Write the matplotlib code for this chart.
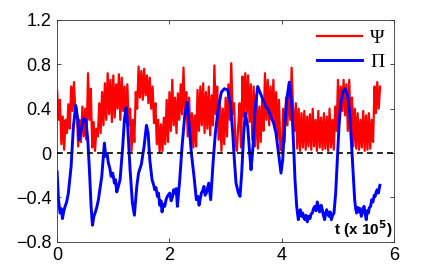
import numpy as np
import matplotlib
matplotlib.use('Agg')
import matplotlib.pyplot as plt

# Psi series (red), sampled every 0.025 (x 10^5)
psi_dt = 0.025
psi = [
    0.56, 0.30, 0.48, 0.08, 0.33, 0.03, 0.30, 0.18, 0.44, 0.22,
    0.60, 0.38, 0.64, 0.36, 0.40, 0.06, 0.30, 0.10, 0.42, 0.15,
    0.40, 0.12, 0.72, 0.30, 0.58, 0.05, 0.28, 0.02, 0.22, 0.15,
    0.45, 0.18, 0.55, 0.25, 0.63, 0.30, 0.72, 0.35, 0.66, 0.28,
    0.70, 0.32, 0.62, 0.40, 0.71, 0.30, 0.68, 0.38, 0.60, 0.28,
    0.62, 0.25, 0.40, 0.02, 0.30, 0.10, 0.55, 0.40, 0.78, 0.50,
    0.74, 0.48, 0.76, 0.52, 0.70, 0.45, 0.68, 0.40, 0.60, 0.27,
    0.45, 0.08, 0.30, 0.01, 0.26, 0.02, 0.32, 0.08, 0.48, 0.10,
    0.55, 0.20, 0.66, 0.25, 0.50, 0.18, 0.54, 0.30, 0.62, 0.35,
    0.77, 0.32, 0.55, 0.15, 0.50, 0.08, 0.36, 0.05, 0.34, 0.06,
    0.57, 0.20, 0.60, 0.25, 0.63, 0.18, 0.55, 0.22, 0.60, 0.16,
    0.52, 0.25, 0.79, 0.35, 0.60, 0.12, 0.45, 0.02, 0.40, 0.08,
    0.50, 0.15, 0.62, 0.30, 0.81, 0.35, 0.45, 0.10, 0.02, 0.25,
    0.45, 0.05, 0.69, 0.33, 0.72, 0.35, 0.70, 0.28, 0.62, 0.12,
    0.60, 0.06, 0.52, 0.04, 0.42, 0.10, 0.48, 0.20, 0.72, 0.30,
    0.66, 0.25, 0.60, 0.30, 0.66, 0.22, 0.55, 0.12, 0.48, 0.04,
    0.02, 0.40, 0.10, 0.50, 0.25, 0.62, 0.30, 0.77, 0.40, 0.20,
    0.45, 0.04, 0.40, 0.02, 0.36, 0.05, 0.38, 0.03, 0.33, 0.06,
    0.35, 0.03, 0.40, 0.06, 0.30, 0.02, 0.38, 0.05, 0.32, 0.03,
    0.36, 0.04, 0.33, 0.02, 0.40, 0.05, 0.30, 0.03, 0.42, 0.20,
    0.66, 0.30, 0.60, 0.38, 0.66, 0.34, 0.62, 0.20, 0.66, 0.25,
    0.50, 0.06, 0.40, 0.04, 0.36, 0.03, 0.30, 0.05, 0.38, 0.02,
    0.34, 0.03, 0.36, 0.04, 0.30, 0.10, 0.60, 0.36, 0.64, 0.40,
    0.60,
]
psi_t = np.arange(len(psi)) * psi_dt

# Pi series (blue)
pi_t = [0.0, 0.024, 0.053, 0.075, 0.095, 0.12, 0.142, 0.17, 0.20, 0.249, 0.29, 0.332, 0.368,
        0.391, 0.427, 0.469, 0.51, 0.546, 0.575, 0.605, 0.629, 0.655, 0.676, 0.705, 0.735,
        0.795, 0.842, 0.866, 0.89, 0.913, 0.94, 0.961, 0.99, 1.02, 1.04, 1.062, 1.09, 1.121, 1.168, 1.198,
        1.228, 1.257, 1.299, 1.34, 1.376, 1.418, 1.45, 1.50, 1.548, 1.59,
        1.62, 1.65, 1.69, 1.715, 1.738, 1.76, 1.785, 1.805, 1.827, 1.85, 1.868, 1.89, 1.916, 1.94, 1.963, 2.005,
        2.03, 2.052, 2.075, 2.094, 2.12, 2.141, 2.183, 2.224, 2.271, 2.313, 2.348, 2.39, 2.437,
        2.479, 2.505, 2.527, 2.545, 2.568, 2.59, 2.615, 2.635, 2.657, 2.68, 2.699, 2.734, 2.776, 2.817, 2.865,
        2.924, 2.977, 3.037, 3.084, 3.126, 3.155, 3.185, 3.227, 3.256, 3.286,
        3.322, 3.351, 3.393, 3.428, 3.452, 3.488, 3.523, 3.571, 3.618, 3.665,
        3.713, 3.76, 3.808, 3.855, 3.897, 3.927, 3.956, 3.986, 4.016, 4.045,
        4.087, 4.134, 4.176, 4.211, 4.235, 4.265, 4.294, 4.31, 4.33, 4.35, 4.371, 4.39, 4.412,
        4.43, 4.454, 4.48, 4.502, 4.52, 4.543, 4.565, 4.585, 4.61, 4.632, 4.655, 4.674, 4.70, 4.721, 4.74, 4.763,
        4.78, 4.799, 4.82, 4.84, 4.86, 4.882, 4.905, 4.929, 4.959, 4.988, 5.018, 5.048, 5.089, 5.131, 5.172, 5.208,
        5.237, 5.267, 5.297, 5.315, 5.332, 5.355, 5.374, 5.395, 5.415, 5.44, 5.463, 5.485, 5.504, 5.52, 5.54, 5.56, 5.581,
        5.60, 5.623, 5.645, 5.663, 5.68, 5.699, 5.72, 5.746]
pi_v = [-0.17, -0.42, -0.54, -0.50, -0.59, -0.52, -0.48, -0.44, -0.36, -0.12, 0.24, 0.43, 0.30,
        0.12, 0.21, 0.31, 0.30, 0.12, -0.15, -0.48, -0.65, -0.57, -0.54, -0.49, -0.42,
        -0.21, 0.09, -0.03, -0.01, -0.09, -0.14, -0.21, -0.18, -0.27, -0.24, -0.35, -0.30, -0.24, 0.06, 0.30,
        0.41, 0.24, -0.15, -0.45, -0.56, -0.30, -0.18, -0.10, 0.06, 0.25,
        0.18, -0.06, -0.24, -0.28, -0.33, -0.31, -0.39, -0.36, -0.47, -0.43, -0.53, -0.46, -0.48, -0.42, -0.39, -0.36,
        -0.43, -0.40, -0.33, -0.36, -0.32, -0.48, -0.24, 0.06, 0.33, 0.46, 0.27, 0.0, -0.21,
        -0.42, -0.39, -0.47, -0.42, -0.36, -0.34, -0.30, -0.38, -0.36, -0.31, -0.27, -0.42, -0.09, 0.18, 0.39,
        0.55, 0.58, 0.57, 0.45, 0.18, -0.06, -0.27, -0.36, -0.39, -0.18,
        0.18, 0.36, 0.24, 0.0, -0.15, 0.06, 0.39, 0.60, 0.54, 0.48,
        0.42, 0.39, 0.33, 0.27, 0.18, 0.06, -0.06, -0.18, -0.06, 0.21,
        0.48, 0.64, 0.45, 0.06, -0.24, -0.48, -0.60, -0.53, -0.51, -0.57, -0.54, -0.58, -0.60,
        -0.56, -0.62, -0.57, -0.59, -0.55, -0.54, -0.50, -0.48, -0.52, -0.44, -0.49, -0.53, -0.47, -0.51, -0.56, -0.60,
        -0.54, -0.51, -0.55, -0.57, -0.53, -0.60, -0.56, -0.54, -0.36, -0.06, 0.24, 0.45, 0.55, 0.58, 0.52, 0.36,
        0.12, -0.15, -0.42, -0.50, -0.54, -0.49, -0.53, -0.50, -0.57, -0.52, -0.48, -0.55, -0.60, -0.52, -0.54, -0.49, -0.48,
        -0.42, -0.44, -0.38, -0.39, -0.35, -0.33, -0.36, -0.29]

xticks = [0, 2, 4, 6]
yticks = [-0.8, -0.4, 0, 0.4, 0.8, 1.2]
yticklabels = ['\u22120.8', '\u22120.4', '0', '0.4', '0.8', '1.2']

plt.rcParams['font.family'] = ['Liberation Sans', 'DejaVu Sans']

fig = plt.figure(figsize=(4.36, 2.73), dpi=100)
ax = fig.add_axes([0.131, 0.114, 0.773, 0.813])

ax.plot(psi_t, psi, color='red', lw=1.6, label='\u03a8')
ax.plot(pi_t, pi_v, color='blue', lw=2.1, label='\u03a0')
ax.axhline(0, color='k', ls=(0, (3.5, 2.5)), lw=1.2, zorder=5)

ax.set_xlim(0, 6)
ax.set_ylim(-0.8, 1.2)
ax.set_xticks(xticks)
ax.set_yticks(yticks)
ax.set_yticklabels(yticklabels)
ax.tick_params(direction='in', length=3, width=0.5, labelsize=13,
               top=True, right=True, pad=4)
for s in ax.spines.values():
    s.set_linewidth(0.6)
    s.set_color('#333333')

leg = ax.legend(loc='upper right', frameon=False,
                handlelength=2.3, handletextpad=0.4, labelspacing=0.3,
                borderaxespad=0.1, prop={'family': 'Liberation Serif', 'size': 14})

ax.text(0.995, 0.01, r't (x 10$^{\mathbf{5}}$)', transform=ax.transAxes,
        ha='right', va='bottom', fontsize=11, fontweight='bold')

fig.savefig('out.png', dpi=100)
